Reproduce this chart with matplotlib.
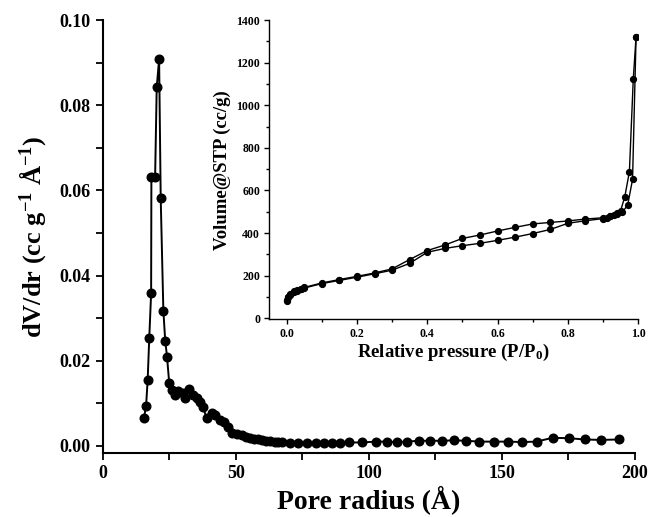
import matplotlib
matplotlib.use("Agg")
import matplotlib.pyplot as plt
from matplotlib.ticker import MultipleLocator

plt.rcParams['font.family'] = ['Liberation Serif', 'DejaVu Serif']
plt.rcParams['font.weight'] = 'bold'
plt.rcParams['mathtext.default'] = 'regular'

# Main plot: pore size distribution
pore_radius = [15.5, 16.3, 16.9, 17.5, 18.2, 18.3, 19.7, 20.3, 21.2, 21.8, 22.8, 23.5, 24.2, 25.0,
               25.9, 27.2, 28.4, 30.3, 30.9, 32.6, 34.1, 35.6, 36.6, 37.6, 39.1, 41.0, 42.2,
               44.1, 45.6, 47.2, 48.5, 50.4, 52.3, 53.9, 55.5, 57.0, 58.5, 60.0, 61.5, 63.0,
               64.7, 66.0, 67.4, 70.5, 73.6, 76.9, 80.3, 83.2, 86.3, 89.3, 92.6, 97.3, 102.7,
               106.7, 110.5, 114.5, 118.8, 123.2, 127.5, 132.2, 136.6, 141.6, 147.0, 152.3,
               157.7, 163.1, 169.1, 175.2, 181.2, 187.2, 194.0]
dv_dr = [0.0065, 0.0094, 0.0155, 0.0254, 0.0358, 0.0632, 0.0632, 0.0842, 0.0908, 0.0582, 0.0317,
         0.0247, 0.0208, 0.0147, 0.0131, 0.0120, 0.0130, 0.0124, 0.0112, 0.0133, 0.0120, 0.0112,
         0.0104, 0.0092, 0.0065, 0.0078, 0.0073, 0.0061, 0.0055, 0.0045, 0.0030, 0.0028, 0.0026,
         0.0022, 0.0019, 0.0017, 0.0015, 0.0013, 0.0012, 0.0011, 0.0009, 0.0009, 0.0008, 0.0007,
         0.0007, 0.0007, 0.0007, 0.0007, 0.0007, 0.0007, 0.0008, 0.0008, 0.0010, 0.0010, 0.0009,
         0.0010, 0.0012, 0.0012, 0.0012, 0.0013, 0.0012, 0.0010, 0.0010, 0.0010, 0.0009, 0.0010,
         0.0019, 0.0018, 0.0015, 0.0014, 0.0015]

# Inset: N2 isotherm
p_ads = [0.001, 0.005, 0.01, 0.02, 0.03, 0.04, 0.05, 0.1, 0.15, 0.2, 0.25, 0.3, 0.35, 0.4, 0.45,
         0.5, 0.55, 0.6, 0.65, 0.7, 0.75, 0.8, 0.85, 0.9, 0.91, 0.92, 0.93, 0.94, 0.95, 0.962,
         0.975, 0.986, 0.994]
v_ads = [80, 98, 110, 122, 130, 137, 142, 163, 178, 193, 209, 226, 258, 310, 328, 341, 352, 366,
         381, 398, 417, 446, 458, 468, 473, 478, 484, 492, 505, 571, 688, 1121, 1321]
p_des = [0.994, 0.984, 0.97, 0.955, 0.94, 0.92, 0.9, 0.85, 0.8, 0.75, 0.7, 0.65, 0.6, 0.55, 0.5,
         0.45, 0.4, 0.35, 0.3, 0.25, 0.2, 0.15, 0.1, 0.05, 0.04, 0.03, 0.02, 0.01, 0.005, 0.001]
v_des = [1321, 652, 530, 500, 490, 480, 472, 466, 457, 450, 443, 427, 410, 391, 375, 344, 318,
         276, 232, 213, 197, 182, 166, 145, 140, 134, 128, 116, 100, 85]

fig = plt.figure(figsize=(6.53, 5.17), dpi=100)
ax = fig.add_axes([0.1573, 0.1244, 0.9720 - 0.1573, 0.9613 - 0.1244])
ax.plot(pore_radius, dv_dr, '-o', color='black', lw=1.4, ms=6.2)
ax.set_xlim(0, 200)
ax.set_ylim(-0.0016, 0.10)
ax.spines['top'].set_visible(False)
ax.spines['right'].set_visible(False)
for s in ['left', 'bottom']:
    ax.spines[s].set_linewidth(1.5)
ax.xaxis.set_major_locator(MultipleLocator(50))
ax.xaxis.set_minor_locator(MultipleLocator(25))
ax.yaxis.set_major_locator(MultipleLocator(0.02))
ax.yaxis.set_minor_locator(MultipleLocator(0.01))
ax.set_yticks([0.0, 0.02, 0.04, 0.06, 0.08, 0.10])
ax.set_yticklabels(['0.00', '0.02', '0.04', '0.06', '0.08', '0.10'])
ax.tick_params(which='major', direction='out', length=5, width=1.3, labelsize=13, pad=4)
ax.tick_params(which='minor', direction='out', length=5, width=1.3)
ax.set_xlabel('Pore radius (Å)', fontsize=20, fontweight='bold', labelpad=2)
ax.set_ylabel(r'dV/dr (cc g$^{-1}$ Å$^{-1}$)', fontsize=19, fontweight='bold', labelpad=8)

ins = fig.add_axes([0.412, 0.3822, 0.9773 - 0.412, 0.9613 - 0.3822])
ins.plot(p_ads, v_ads, '-o', color='black', lw=1.0, ms=4.2)
ins.plot(p_des, v_des, '-o', color='black', lw=1.0, ms=4.2)
ins.set_xlim(-0.05, 1.0)
ins.set_ylim(-5, 1400)
ins.spines['top'].set_visible(False)
ins.spines['right'].set_visible(False)
for s in ['left', 'bottom']:
    ins.spines[s].set_linewidth(1.0)
ins.xaxis.set_major_locator(MultipleLocator(0.2))
ins.xaxis.set_minor_locator(MultipleLocator(0.1))
ins.yaxis.set_major_locator(MultipleLocator(200))
ins.yaxis.set_minor_locator(MultipleLocator(100))
ins.set_xticks([0.0, 0.2, 0.4, 0.6, 0.8, 1.0])
ins.set_xticklabels(['0.0', '0.2', '0.4', '0.6', '0.8', '1.0'])
ins.tick_params(which='major', direction='out', length=3.5, width=1.0, labelsize=8.5, pad=3)
ins.tick_params(which='minor', direction='out', length=2.5, width=1.0)
ins.set_xlabel(r'Relative pressure (P/P$_0$)', fontsize=13.5, fontweight='bold', labelpad=1)
ins.set_ylabel('Volume@STP (cc/g)', fontsize=13.5, fontweight='bold', labelpad=4)

fig.savefig('out.png', dpi=100)
